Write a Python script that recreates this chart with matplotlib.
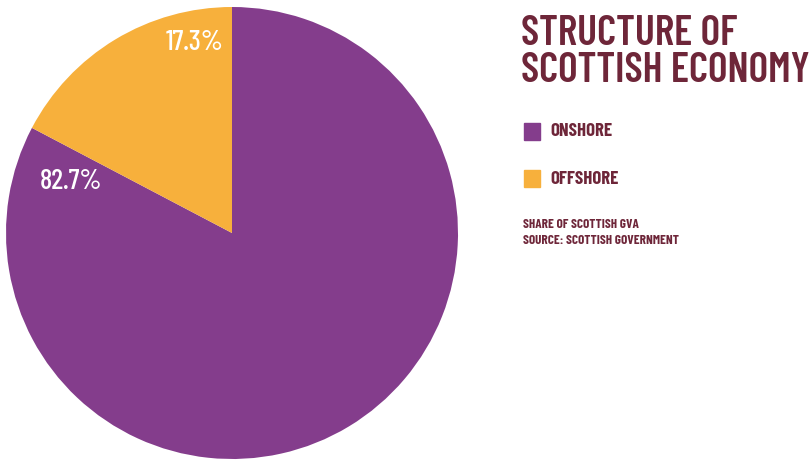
import matplotlib.pyplot as plt
import numpy as np
from matplotlib.patches import Rectangle

categories = ["ONSHORE", "OFFSHORE"]
shares = [82.7, 17.3]
pct_labels = ["82.7%", "17.3%"]
colors = ["#843d8c", "#f7b03c"]
title_lines = ["STRUCTURE OF", "SCOTTISH ECONOMY"]
notes = ["SHARE OF SCOTTISH GVA", "SOURCE: SCOTTISH GOVERNMENT"]

text_col = "#6e2639"
font = ["Barlow Condensed", "DejaVu Sans"]

fig = plt.figure(figsize=(8.09, 4.61), dpi=100)
ax = fig.add_axes([6 / 809, 2 / 461, 452 / 809, 452 / 461])
ax.pie(shares, colors=colors, startangle=90, counterclock=False,
       wedgeprops=dict(linewidth=0))
ax.set_xlim(-1, 1)
ax.set_ylim(-1, 1)
ax.set_aspect("equal")

# label placement (angle in degrees, radius fraction) for each slice
label_pos = [(162.4, 0.747), (101, 0.857)]
for txt, (ang, r) in zip(pct_labels, label_pos):
    a = np.deg2rad(ang)
    ax.text(r * np.cos(a), r * np.sin(a), txt, color="white", fontsize=20.5,
            ha="center", va="center", family=font, fontweight=500)

for i, line in enumerate(title_lines):
    fig.text(521 / 809, 1 - (45 + i * 37) / 461, line, color=text_col, fontsize=30,
             fontweight=600, family=font, ha="left", va="baseline")

for i, (cat, col) in enumerate(zip(categories, colors)):
    y = 132 + i * 47
    fig.patches.append(Rectangle((524 / 809, 1 - (y + 8) / 461), 16 / 809, 17 / 461,
                                 transform=fig.transFigure, color=col))
    fig.text(550 / 809, 1 - y / 461, cat, color=text_col, fontsize=13.5,
             fontweight="bold", family=font, ha="left", va="center")

for i, n in enumerate(notes):
    fig.text(523 / 809, 1 - (224 + i * 16) / 461, n, color=text_col, fontsize=9.5,
             fontweight="bold", family=font, ha="left", va="center")

fig.savefig("out.png", dpi=100)
